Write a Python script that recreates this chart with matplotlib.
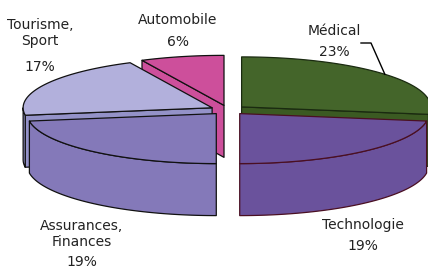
import numpy as np
import matplotlib
matplotlib.use("Agg")
import matplotlib.pyplot as plt
from matplotlib.patches import Polygon

# data
sectors = ["Médical", "Technologie", "Assurances,\nFinances", "Tourisme,\nSport", "Automobile"]
shares = [23, 19, 19, 17, 6]
pct_labels = ["23%", "19%", "19%", "17%", "6%"]

top_colors = ["#44652a", "#6a529c", "#8479b9", "#b2b0dc", "#cd4f9b"]
side_colors = ["#3b5a22", "#6a529c", "#8479b9", "#9492c8", "#cd4f9b"]
edge_colors = ["#1a2a10", "#4a0f22", "#111111", "#111111", "#111111"]

# layout of the 3d pie (pixel-like units, y down)
cx, cy = 228, 110
rx, ry, depth = 189, 50, 52
explode = 0.095

fig = plt.figure(figsize=(4.28, 2.66), dpi=100)
ax = fig.add_axes([0, 0, 1, 1])
ax.set_xlim(0, 428)
ax.set_ylim(266, 0)
ax.axis("off")


def pt(theta, ox, oy, dz=0.0):
    t = np.radians(theta)
    return ox + rx * np.sin(t), oy - ry * np.cos(t) + dz


def arc(a1, a2, ox, oy, dz=0.0):
    t = np.linspace(a1, a2, max(int(abs(a2 - a1)) * 2, 4))
    x, y = pt(t, ox, oy, dz)
    return np.column_stack([x, y])


fracs = np.array(shares, dtype=float) / sum(shares)
starts = np.concatenate([[0], np.cumsum(fracs)[:-1]]) * 360
ends = np.cumsum(fracs) * 360
mids = (starts + ends) / 2

order = np.argsort(-np.cos(np.radians(mids)))
lw = 0.9

for i in order:
    a1, a2, m = starts[i], ends[i], mids[i]
    ox = cx + explode * rx * np.sin(np.radians(m))
    oy = cy - explode * ry * np.cos(np.radians(m))
    kw = dict(edgecolor=edge_colors[i], linewidth=lw, joinstyle="round")
    # cut faces facing the viewer
    for a, vis in ((a1, np.sin(np.radians(a1)) < -1e-6), (a2, np.sin(np.radians(a2)) > 1e-6)):
        if vis:
            ex, ey = pt(a, ox, oy)
            face = [(ox, oy), (ex, ey), (ex, ey + depth), (ox, oy + depth)]
            ax.add_patch(Polygon(face, closed=True, facecolor=side_colors[i], **kw))
    # outer wall, front part
    lo, hi = max(a1, 90), min(a2, 270)
    if lo < hi:
        upper = arc(lo, hi, ox, oy)
        lower = arc(lo, hi, ox, oy, depth)[::-1]
        ax.add_patch(Polygon(np.vstack([upper, lower]), closed=True,
                             facecolor=side_colors[i], **kw))
    # top face
    top = np.vstack([[ox, oy], arc(a1, a2, ox, oy)])
    ax.add_patch(Polygon(top, closed=True, facecolor=top_colors[i], **kw))

# labels
txt = dict(ha="center", va="center", fontsize=10, color="#222222", family="DejaVu Sans")
label_pos = [(334, 31, 52), (363, 225, 246), (82, 234, 262), (40, 33, 67), (178, 20, 42)]
for i, (lx, ly, py) in enumerate(label_pos):
    ax.text(lx, ly, sectors[i], linespacing=1.2, **txt)
    ax.text(lx, py, pct_labels[i], **txt)

# leader line for Médical
m = mids[0]
ox = cx + explode * rx * np.sin(np.radians(m))
oy = cy - explode * ry * np.cos(np.radians(m))
lx, ly = pt(m, ox, oy)
ax.plot([361, 371, lx], [43, 43, ly], color="black", linewidth=1)

fig.savefig("out.png", dpi=100)
